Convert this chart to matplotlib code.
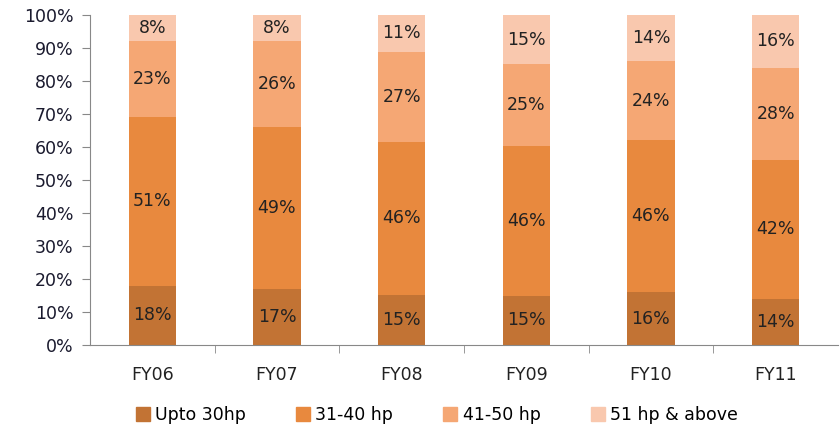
import numpy as np
import matplotlib
matplotlib.use('Agg')
import matplotlib.pyplot as plt
from matplotlib.patches import Patch

categories = ['FY06', 'FY07', 'FY08', 'FY09', 'FY10', 'FY11']
series_names = ['Upto 30hp', '31-40 hp', '41-50 hp', '51 hp & above']
upto_30 = [18, 17, 15, 15, 16, 14]
hp_31_40 = [51, 49, 46, 46, 46, 42]
hp_41_50 = [23, 26, 27, 25, 24, 28]
hp_51_up = [8, 8, 11, 15, 14, 16]
colors = ['#C27334', '#E8893E', '#F5A774', '#F9C8AE']

plt.rcParams['font.family'] = ['DejaVu Sans']

fig = plt.figure(figsize=(8.4, 4.29), dpi=100)
ax = fig.add_axes([90 / 840, 1 - 345 / 429, 748 / 840, 330 / 429])

# shares so each bar tops out at 100%
data = np.array([upto_30, hp_31_40, hp_41_50, hp_51_up], dtype=float)
shares = data / data.sum(axis=0) * 100
x = np.arange(len(categories))
bottom = np.zeros(len(categories))
for i, name in enumerate(series_names):
    ax.bar(x, shares[i], 0.38, bottom=bottom, color=colors[i], label=name)
    for j in range(len(categories)):
        ax.text(x[j], bottom[j] + shares[i][j] / 2, '%d%%' % data[i][j],
                ha='center', va='center', fontsize=12.5, color='#222222')
    bottom += shares[i]

ax.set_xlim(-0.5, len(categories) - 0.5)
ax.set_ylim(0, 100)
ax.set_yticks(np.arange(0, 101, 10))
ax.set_yticklabels(['%d%%' % v for v in range(0, 101, 10)], fontsize=12.5, color='#1a1a2e')
ax.set_xticks(x)
ax.set_xticklabels(categories, fontsize=12.5, color='#222222')
ax.tick_params(axis='x', length=0, pad=15)
ax.set_xticks(np.arange(0.5, len(categories) - 0.5, 1), minor=True)
ax.tick_params(axis='x', which='minor', length=6, color='#888888', direction='out')
ax.tick_params(axis='y', length=6, color='#888888', direction='out', pad=6)

for s in ['top', 'right']:
    ax.spines[s].set_visible(False)
ax.spines['left'].set_color('#888888')
ax.spines['bottom'].set_color('#888888')

handles = [Patch(color=c, label=n) for c, n in zip(colors, series_names)]
fig.legend(handles=handles, loc='center', bbox_to_anchor=(0.52, 1 - 415 / 429),
           ncol=4, frameon=False, fontsize=12.5, handlelength=0.8, handleheight=0.8,
           handletextpad=0.3, columnspacing=2.9)

fig.savefig('out.png', dpi=100)
